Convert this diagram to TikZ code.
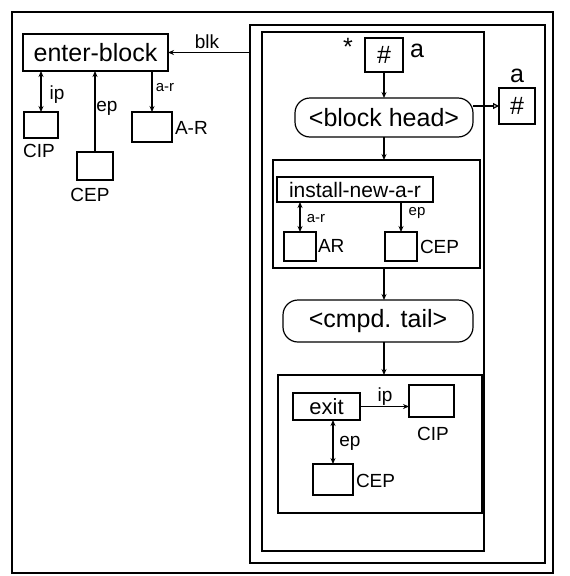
\documentclass[tikz,border=0pt]{standalone}
\usepackage{fontspec}
\setmainfont{Liberation Sans}
\usetikzlibrary{arrows.meta}
\begin{document}
\begin{tikzpicture}[x=1pt,y=-1pt,
  every node/.style={inner sep=0pt, outer sep=0pt},
  box/.style={draw, line width=1.2pt},
  rbox/.style={draw, line width=1.2pt, rounded corners=15pt},
  lbl/.style={font=\fontsize{25}{27}\selectfont},
  slbl/.style={font=\fontsize{19}{21}\selectfont},
  tlbl/.style={font=\fontsize{15}{17}\selectfont},
  ln/.style={line width=1.2pt},
  arr/.style={ln, -{Stealth[length=6pt,width=5pt]}},
  darr/.style={ln, {Stealth[length=6pt,width=5pt]}-{Stealth[length=6pt,width=5pt]}},
  oarr/.style={ln, -{Triangle[open,length=6pt,width=6pt]}}
]
\useasboundingbox (0,0) rectangle (570,576);
% frames
\node[box, minimum width=541, minimum height=561] (outer) at (282.5,292.5) {};
\node[box, minimum width=295, minimum height=538] (second) at (397.5,294) {};
\node[box, minimum width=222, minimum height=519] (third) at (373,291.5) {};
% left part
\node[box, minimum width=145, minimum height=37, lbl] (enter) at (95.5,52.5) {enter-block};
\node[box, minimum width=34, minimum height=26] (cipL) at (41,125) {};
\node[box, minimum width=36, minimum height=28] (cepL) at (95,166) {};
\node[box, minimum width=40, minimum height=30] (arL) at (152,127) {};
\node[slbl] (cipLt) at (39,151) {CIP};
\node[slbl] (cepLt) at (90,195) {CEP};
\node[slbl, anchor=west] (arLt) at (175,128) {A-R};
\draw[arr] (second.west |- enter.east) -- (enter.east);
\node[slbl] (blkt) at (207,42) {blk};
\draw[darr] (enter.south -| cipL.north) -- (cipL.north);
\node[slbl] (ipLt) at (57,95) {ip};
\draw[arr] (cepL.north) -- (cepL.north |- enter.south);
\node[slbl] (epLt) at (107,108) {ep};
\draw[arr] (enter.south -| arL.north) -- (arL.north);
\node[tlbl] (arLl) at (165,88) {a-r};
% top of inner block
\node[box, minimum width=38, minimum height=34, lbl] (hashT) at (384,55) {\#};
\node[lbl] (star) at (348,47) {*};
\node[lbl] (aT) at (417,51) {a};
\node[rbox, minimum width=178, minimum height=39, lbl] (bh) at (384,117.5) {<block head>};
\node[box, minimum width=36, minimum height=36, lbl] (hashR) at (517,106) {\#};
\node[lbl] (aR) at (517,76) {a};
\draw[arr] (hashT.south) -- (bh.north);
\draw[oarr] (bh.east |- hashR.west) -- (hashR.west);
% install box
\node[box, minimum width=207, minimum height=108] (inst) at (376.5,214) {};
\draw[arr] (bh.south) -- (bh.south |- inst.north);
\node[box, minimum width=156, minimum height=25, font=\fontsize{21}{23}\selectfont] (inr) at (355,189.5) {install-new-a-r};
\node[box, minimum width=32, minimum height=29] (arI) at (300,246.5) {};
\node[slbl, anchor=west] (arIt) at (318,246) {AR};
\node[box, minimum width=32, minimum height=29] (cepI) at (401,246.5) {};
\node[slbl, anchor=west] (cepIt) at (420,247) {CEP};
\draw[darr] (inr.south -| arI.north) -- (arI.north);
\node[tlbl] (arIl) at (316,219) {a-r};
\draw[arr] (inr.south -| cepI.north) -- (cepI.north);
\node[tlbl] (epIl) at (417,213) {ep};
% compound tail
\node[rbox, minimum width=190, minimum height=42, lbl] (cmpd) at (378,321) {<cmpd. tail>};
\draw[arr] (inst.south -| bh.south) -- (cmpd.north -| bh.south);
% exit box
\node[box, minimum width=204, minimum height=138] (exo) at (380,444) {};
\draw[arr] (cmpd.south -| bh.south) -- (exo.north -| bh.south);
\node[box, minimum width=67, minimum height=27, font=\fontsize{22}{24}\selectfont] (exit) at (326.5,406.5) {exit};
\node[box, minimum width=45, minimum height=32] (cipR) at (431.5,401) {};
\node[slbl] (cipRt) at (433,434) {CIP};
\draw[arr] (exit.east) -- (exit.east -| cipR.west);
\node[slbl] (ipRt) at (385,397) {ip};
\node[box, minimum width=40, minimum height=31] (cepR) at (333,479.5) {};
\node[slbl, anchor=west] (cepRt) at (356,481) {CEP};
\draw[darr] (exit.south -| cepR.north) -- (cepR.north);
\node[slbl] (epRt) at (350,443) {ep};
\end{tikzpicture}
\end{document}
